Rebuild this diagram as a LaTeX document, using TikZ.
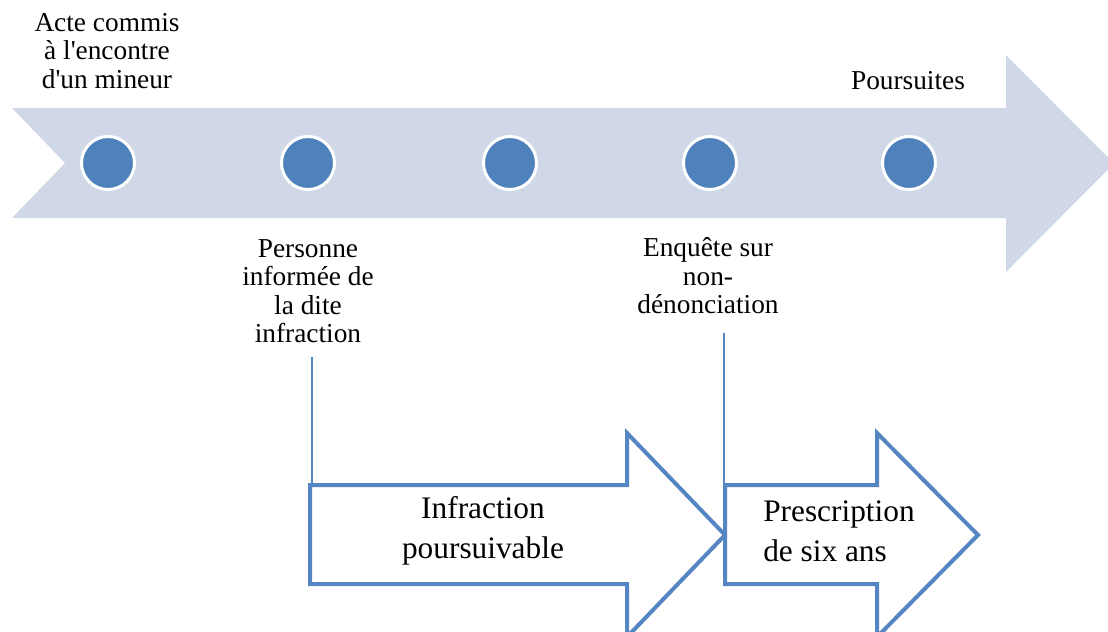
\documentclass[tikz,border=0pt]{standalone}
\usepackage{fontspec}
\setmainfont{Liberation Serif}[Ligatures=TeXOff]
\definecolor{bandfill}{HTML}{D0D8E8}
\definecolor{dotblue}{HTML}{4F81BD}
\definecolor{outblue}{HTML}{5585C2}
\begin{document}
\begin{tikzpicture}[x=0.75pt,y=-0.75pt,
  dot/.style={circle,fill=dotblue,draw=white,line width=2.25pt,minimum size=39.75pt,inner sep=0pt},
  toplabel/.style={align=center,font=\fontsize{20.5}{21.4}\selectfont,inner sep=0pt},
  boxlabel/.style={font=\fontsize{23.5}{30}\selectfont,inner sep=0pt},
  outarrow/.style={draw=outblue,line width=3pt,line join=miter,fill=white},
  tick/.style={draw=outblue,line width=0.8pt}]
\useasboundingbox (0,0) rectangle (1108,632);
% big band arrow
\fill[bandfill] (12,108) -- (1006,108) -- (1006,55) -- (1114,163.5) -- (1006,272)
  -- (1006,218) -- (12,218) -- (65,163) -- cycle;
% dots
\node[dot] (d1) at (108,163) {};
\node[dot] (d2) at (308,163) {};
\node[dot] (d3) at (510,163) {};
\node[dot] (d4) at (710,163) {};
\node[dot] (d5) at (909,163) {};
% labels
\node[toplabel] (acte) at (107,51) {Acte commis\\à l'encontre\\d'un mineur};
\node[toplabel] (pours) at (908,81) {Poursuites};
\node[toplabel] (pers) at (308,291) {Personne\\informée de\\la dite\\infraction};
\node[toplabel] (enq) at (708,276) {Enquête sur\\non-\\dénonciation};
% outlined arrows
\path[outarrow] (310,485) -- (627,485) -- (627,433) -- (725,535) -- (627,637)
  -- (627,584) -- (310,584) -- cycle;
\path[outarrow] (725,485) -- (877,485) -- (877,433) -- (978,535) -- (877,637)
  -- (877,584) -- (725,584) -- cycle;
\node[boxlabel,align=center] (infr) at (483,531) {Infraction\\poursuivable};
\node[boxlabel,align=left,anchor=west] (presc) at (763,531) {Prescription\\de six ans};
% connectors
\coordinate (c1a) at (312,357);
\coordinate (c1b) at (312,485);
\coordinate (c2a) at (724,333);
\coordinate (c2b) at (724,485);
\draw[tick] (c1a) -- (c1b);
\draw[tick] (c2a) -- (c2b);
\end{tikzpicture}
\end{document}
